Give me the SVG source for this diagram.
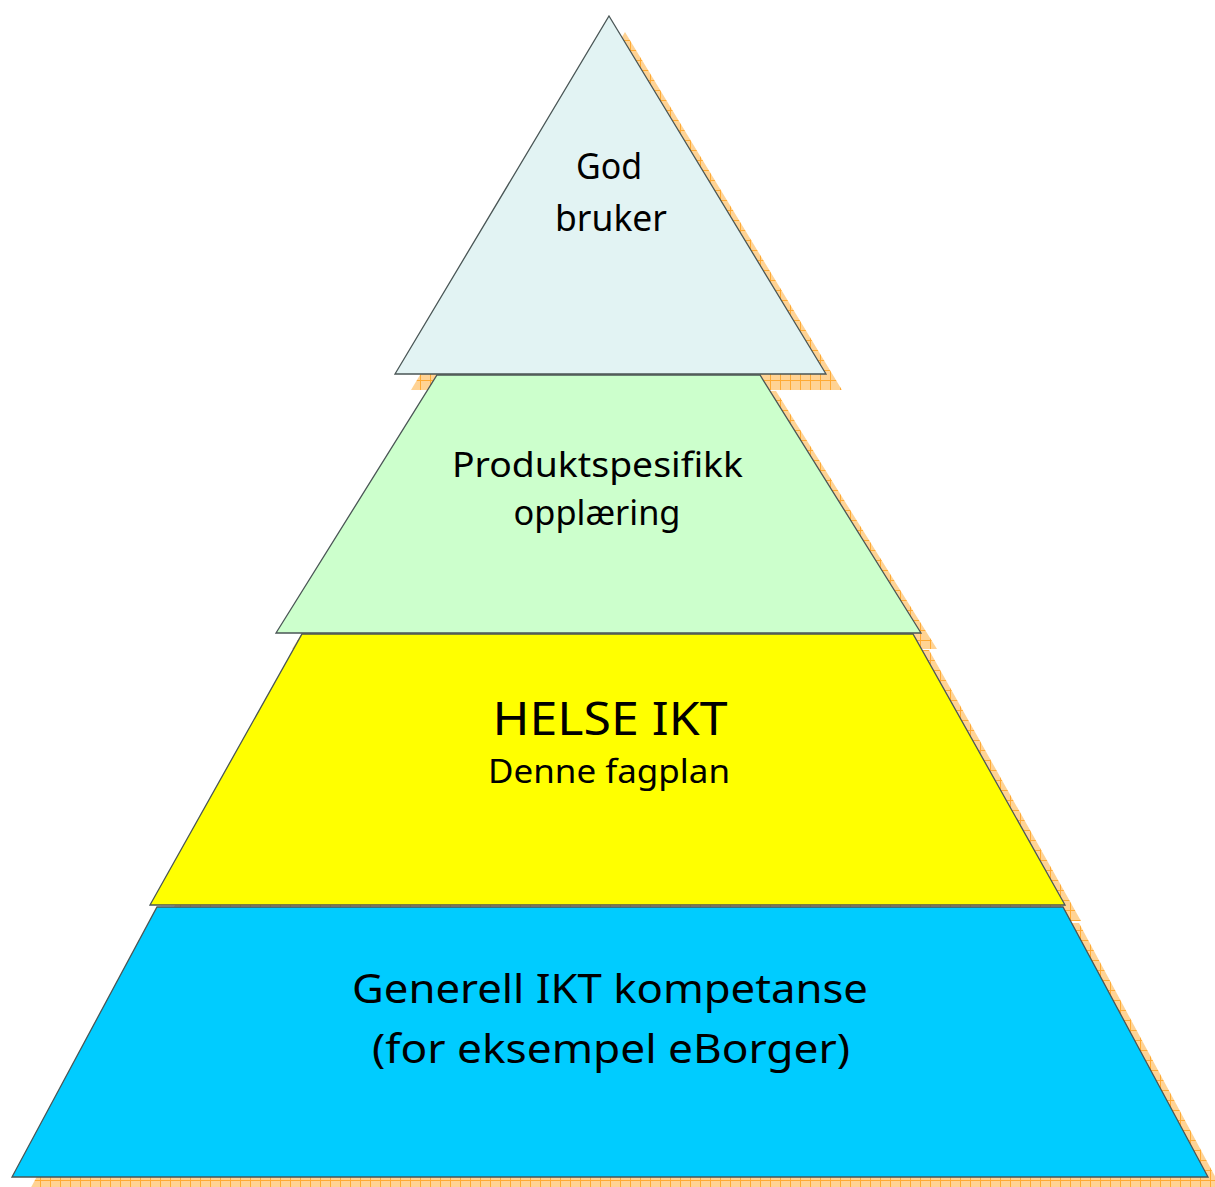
<svg xmlns="http://www.w3.org/2000/svg" width="1215" height="1187" viewBox="0 0 1215 1187">
<defs>
<pattern id="grid" width="10" height="10" patternUnits="userSpaceOnUse">
<rect width="10" height="10" fill="#FFD394"/>
<path d="M0 0.5H10M0.5 0V10" stroke="#FFAA33" stroke-width="1"/>
</pattern>
<style>
.shadow{fill:url(#grid);stroke:none}
.layer{stroke:#4a5656;stroke-width:1.3;stroke-linejoin:miter}
.lbl{font-family:"Comic Sans MS","Noto Sans","DejaVu Sans",sans-serif;fill:#000;text-anchor:middle}
</style>
</defs>
<rect width="1215" height="1187" fill="#fff"/>
<g id="layer-top">
<polygon class="shadow" points="625,32 842,390 411,390"/>
<polygon class="layer" fill="#E2F3F3" points="609,16 826,374 395,374"/>
<text class="lbl" x="609" y="179" font-size="36" textLength="66" lengthAdjust="spacingAndGlyphs">God</text>
<text class="lbl" x="611" y="231" font-size="36" textLength="112" lengthAdjust="spacingAndGlyphs">bruker</text>
</g>
<g id="layer-produkt">
<polygon class="shadow" points="453,391 776,391 937,649 292,649"/>
<polygon class="layer" fill="#CCFFCC" points="437,375 760,375 921,633 276,633"/>
<text class="lbl" x="597.5" y="477" font-size="35" textLength="291" lengthAdjust="spacingAndGlyphs">Produktspesifikk</text>
<text class="lbl" x="597" y="525" font-size="35" textLength="167" lengthAdjust="spacingAndGlyphs">opplæring</text>
</g>
<g id="layer-helse">
<polygon class="shadow" points="318,650 929,650 1081,921 166,921"/>
<polygon class="layer" fill="#FFFF00" points="302,634 913,634 1065,905 150,905"/>
<text class="lbl" x="610" y="735" font-size="46" textLength="235" lengthAdjust="spacingAndGlyphs">HELSE IKT</text>
<text class="lbl" x="609" y="783" font-size="32" textLength="242" lengthAdjust="spacingAndGlyphs">Denne fagplan</text>
</g>
<g id="layer-generell">
<polygon class="shadow" points="173,923 1079,923 1224,1193 28,1193"/>
<polygon class="layer" fill="#00CCFF" points="157,907 1063,907 1208,1177 12,1177"/>
<text class="lbl" x="610" y="1003" font-size="40" textLength="516" lengthAdjust="spacingAndGlyphs">Generell IKT kompetanse</text>
<text class="lbl" x="611" y="1063" font-size="40" textLength="478" lengthAdjust="spacingAndGlyphs">(for eksempel eBorger)</text>
</g>
<g id="connectors"/>
</svg>
